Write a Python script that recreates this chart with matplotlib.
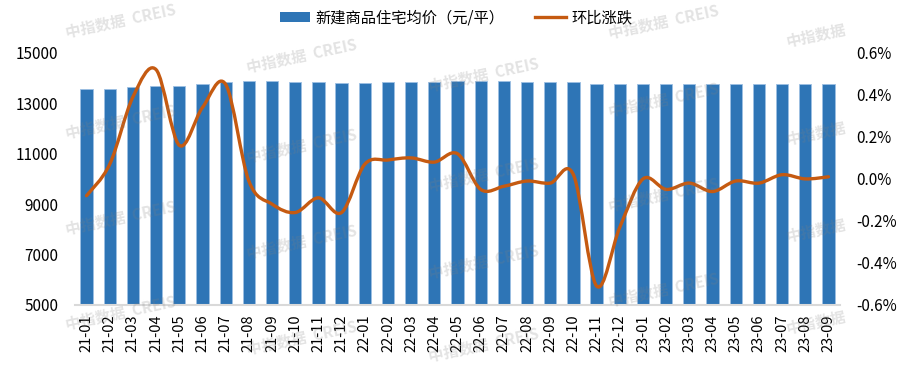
import numpy as np
import matplotlib
matplotlib.use("Agg")
import matplotlib.pyplot as plt
from matplotlib.path import Path
from matplotlib.patches import PathPatch, Patch
from matplotlib.lines import Line2D
from matplotlib.ticker import FuncFormatter

plt.rcParams['font.family'] = ['Noto Sans CJK SC', 'DejaVu Sans']

# data
months = ['21-01', '21-02', '21-03', '21-04', '21-05', '21-06', '21-07', '21-08',
          '21-09', '21-10', '21-11', '21-12', '22-01', '22-02', '22-03', '22-04',
          '22-05', '22-06', '22-07', '22-08', '22-09', '22-10', '22-11', '22-12',
          '23-01', '23-02', '23-03', '23-04', '23-05', '23-06', '23-07', '23-08', '23-09']
price = [13560, 13560, 13640, 13700, 13700, 13770, 13850, 13880, 13880, 13840, 13840,
         13810, 13810, 13840, 13840, 13840, 13880, 13890, 13890, 13860, 13850, 13850,
         13780, 13760, 13760, 13760, 13760, 13760, 13760, 13760, 13760, 13760, 13760]
mom = [-0.08, 0.07, 0.39, 0.52, 0.16, 0.34, 0.45, -0.01, -0.12, -0.16, -0.09,
       -0.16, 0.07, 0.09, 0.10, 0.08, 0.12, -0.05, -0.035, -0.01, -0.02, 0.02,
       -0.51, -0.23, 0.00, -0.05, -0.02, -0.06, -0.01, -0.02, 0.02, 0.00, 0.01]

BLUE = '#2E75B6'
ORANGE = '#C55A11'


def smooth_path(xs, ys):
    """Excel-style smoothed line: cubic Bezier segments (Catmull-Rom tangents)."""
    pts = np.column_stack([xs, ys]).astype(float)
    n = len(pts)
    verts = [pts[0]]
    codes = [Path.MOVETO]
    for i in range(n - 1):
        p0 = pts[max(i - 1, 0)]
        p1 = pts[i]
        p2 = pts[i + 1]
        p3 = pts[min(i + 2, n - 1)]
        verts += [p1 + (p2 - p0) / 6.0, p2 - (p3 - p1) / 6.0, p2]
        codes += [Path.CURVE4] * 3
    return Path(verts, codes)


fig = plt.figure(figsize=(9.13, 3.67), dpi=100)
ax = fig.add_axes([0.0821, 0.169, 0.838, 0.687])
ax2 = ax.twinx()

x = np.arange(len(months))
ax.bar(x, price, width=0.53, color=BLUE, edgecolor='#9dbfe3', linewidth=0.6)
ax.set_ylim(5000, 15000)
ax.set_yticks(range(5000, 15001, 2000))
ax.set_xlim(-0.5, len(months) - 0.5)
ax.set_xticks(x)
ax.set_xticklabels(months, rotation=90, fontsize=10.5)

ax2.add_patch(PathPatch(smooth_path(x, mom), fill=False, edgecolor=ORANGE,
                        linewidth=2.4, capstyle='round', joinstyle='round'))
ax2.set_ylim(-0.6, 0.6)
ax2.set_yticks(np.arange(-0.6, 0.61, 0.2))
ax2.yaxis.set_major_formatter(FuncFormatter(lambda v, p: '%.1f%%' % (v + 0.0)))

for a in (ax, ax2):
    for s in a.spines.values():
        s.set_visible(False)
    a.tick_params(length=0, labelsize=11, colors='black')
ax.spines['bottom'].set_visible(True)
ax.spines['bottom'].set_color('#d9d9d9')
ax.spines['bottom'].set_linewidth(1.5)
ax.tick_params(axis='y', pad=12)
ax.tick_params(axis='x', pad=7, labelsize=10.5)
ax2.tick_params(axis='y', pad=12)

handles = [Patch(facecolor=BLUE, edgecolor='none'),
           Line2D([0], [0], color=ORANGE, linewidth=2.4)]
fig.legend(handles, ['新建商品住宅均价（元/平）', '环比涨跌'], loc='center',
           bbox_to_anchor=(0.4995, 0.951), ncol=2, frameon=False, fontsize=11,
           handlelength=2.0, handleheight=0.55, handletextpad=0.35, columnspacing=2.0)

# watermarks
wm_full = '中指数据  CREIS'
wm_cols = [(121, [21, 122, 218, 313], wm_full),
           (302, [56, 146, 242, 338], wm_full),
           (484, [75, 175, 262, 345], wm_full),
           (664, [22, 100, 195, 290], wm_full),
           (816, [35, 133, 230, 322], '中指数据')]
for cx, ys, txt in wm_cols:
    for cy in ys:
        fig.text(cx / 913, 1 - cy / 367, txt, ha='center', va='center', rotation=12,
                 fontsize=11, fontweight='bold', color='#808080', alpha=0.22, zorder=10)

fig.savefig('out.png', dpi=100)
